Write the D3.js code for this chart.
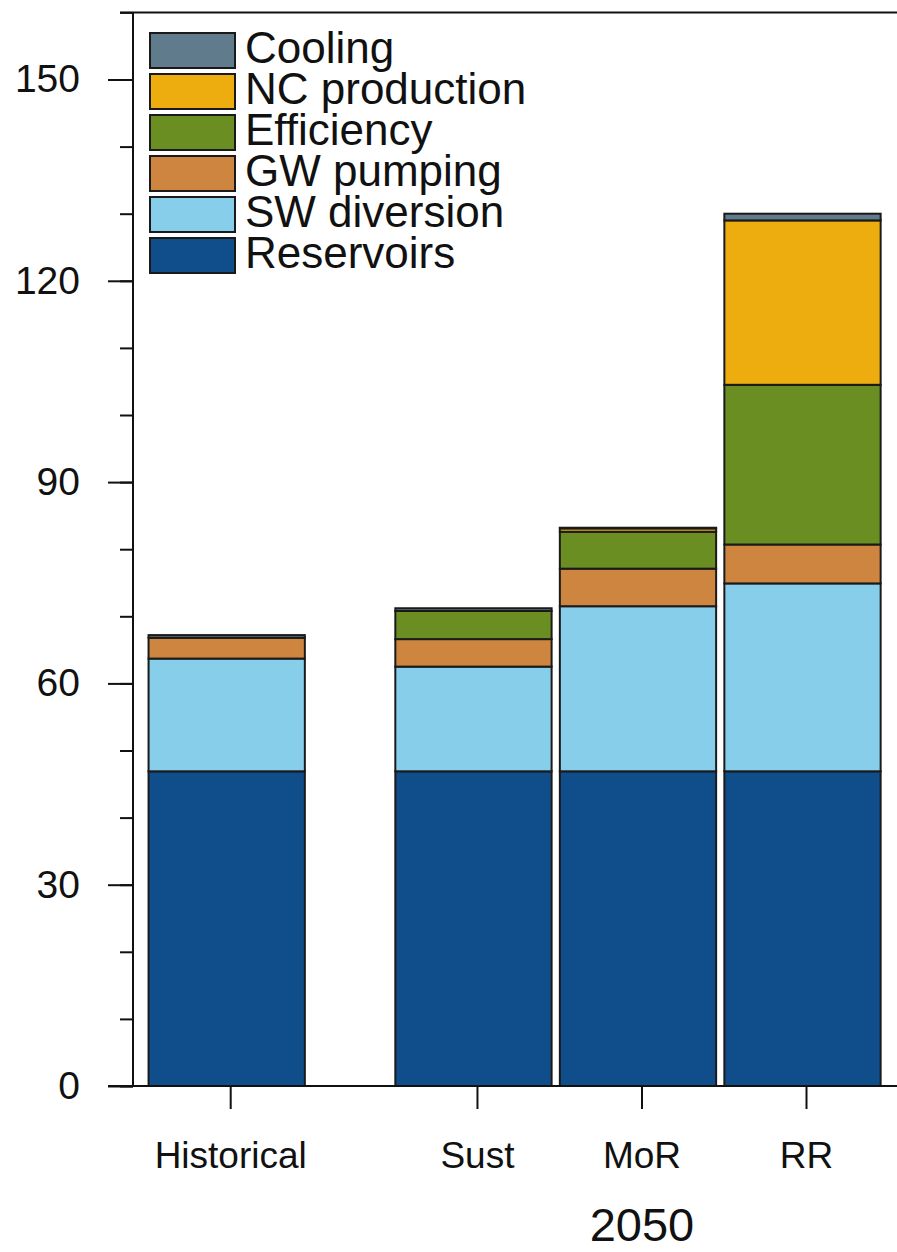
<!DOCTYPE html>
<html>
<head>
<meta charset="utf-8">
<script src="https://cdn.jsdelivr.net/npm/d3@7"></script>
<style>
  html, body { margin: 0; padding: 0; background: #fff; }
  svg { display: block; font-family: "Liberation Sans", Arial, Helvetica, sans-serif; }
</style>
</head>
<body>
<svg id="chart" width="897" height="1252"></svg>
<script>
// Scenario columns and their slot positions (gap after Historical)
const categories = ["Historical", "Sust", "MoR", "RR"];
const slots = [0, 1.5, 2.5, 3.5];

// Stack components, bottom to top
const series = ["Reservoirs", "SW diversion", "GW pumping", "Efficiency", "NC production", "Cooling"];
const colors = ["#104e8b", "#87ceeb", "#cd853f", "#6b8e23", "#eead0e", "#607b8b"];

// Values per component, one entry per scenario
const reservoirs   = [46.9, 46.9, 46.9, 46.9];
const swDiversion  = [16.8, 15.6, 24.6, 28.0];
const gwPumping    = [3.1, 4.1, 5.6, 5.8];
const efficiency   = [0.0, 4.2, 5.5, 23.8];
const ncProduction = [0.0, 0.0, 0.5, 24.5];
const cooling      = [0.4, 0.4, 0.1, 1.0];

const yTicks = [0, 30, 60, 90, 120, 150];
const yMinor = d3.range(0, 161, 10);
const groupLabel = "2050";

const values = [reservoirs, swDiversion, gwPumping, efficiency, ncProduction, cooling];
const table = categories.map((c, i) => {
  const row = { category: c, slot: slots[i] };
  series.forEach((s, k) => { row[s] = values[k][i]; });
  return row;
});
const stacked = d3.stack().keys(series)(table);

const svg = d3.select("#chart");
const y = d3.scaleLinear().domain([0, 160]).range([1086, 12.4]);
const x = d3.scaleLinear().domain([0, 3.5]).range([226.7, 802.5]);
const unit = x(1) - x(0);
const barW = unit * 0.95;

// Bars
const layers = svg.append("g").selectAll("g").data(stacked).join("g")
  .attr("fill", (d, i) => colors[i]);
layers.selectAll("rect").data(d => d.filter(p => p[1] - p[0] > 0)).join("rect")
  .attr("x", d => x(d.data.slot) - barW / 2)
  .attr("width", barW)
  .attr("y", d => y(d[1]))
  .attr("height", d => y(d[0]) - y(d[1]))
  .attr("stroke", "#1a1a1a")
  .attr("stroke-width", 2);

// Frame lines: top and bottom
const frame = svg.append("g").attr("stroke", "#111").attr("stroke-width", 2);
frame.append("line").attr("x1", 120).attr("x2", 897).attr("y1", y(160)).attr("y2", y(160));
frame.append("line").attr("x1", 108).attr("x2", 897).attr("y1", y(0)).attr("y2", y(0));

// Left axis with major and minor ticks
const axisX = 133;
const yAxis = svg.append("g").attr("transform", `translate(${axisX},0)`);
yAxis.append("g")
  .call(d3.axisLeft(y).tickValues(yMinor).tickSize(13).tickFormat(""))
  .call(g => g.selectAll("line").attr("stroke", "#111").attr("stroke-width", 2))
  .call(g => g.select(".domain").remove());
yAxis.append("g")
  .call(d3.axisLeft(y).tickValues(yTicks).tickSize(25).tickPadding(28).tickFormat(d3.format("d")))
  .call(g => g.selectAll("line").attr("stroke", "#111").attr("stroke-width", 2))
  .call(g => g.select(".domain").remove())
  .call(g => g.selectAll("text").attr("font-size", 39).attr("fill", "#111")
    .attr("font-family", "'Liberation Sans', Arial, sans-serif"));
yAxis.append("line").attr("x1", 0).attr("x2", 0).attr("y1", y(160)).attr("y2", y(0))
  .attr("stroke", "#111").attr("stroke-width", 2);

// Bottom category ticks and labels
const xAxis = svg.append("g").attr("transform", `translate(0,${y(0)})`);
xAxis.selectAll("line.tick").data(table).join("line")
  .attr("class", "tick")
  .attr("x1", d => x(d.slot) + 4).attr("x2", d => x(d.slot) + 4)
  .attr("y1", 0).attr("y2", 23)
  .attr("stroke", "#111").attr("stroke-width", 2);
xAxis.selectAll("text").data(table).join("text")
  .attr("x", d => x(d.slot) + 4)
  .attr("y", 82)
  .attr("text-anchor", "middle")
  .attr("font-size", 37)
  .attr("fill", "#111")
  .text(d => d.category);

// Group label under the projected scenarios
svg.append("text")
  .attr("x", x(2.5) + 4)
  .attr("y", 1241)
  .attr("text-anchor", "middle")
  .attr("font-size", 47)
  .attr("fill", "#111")
  .text(groupLabel);

// Legend, top component first
const legendItems = series.map((s, i) => ({ name: s, color: colors[i] })).reverse();
const legend = svg.append("g").attr("transform", "translate(150,33)");
const rows = legend.selectAll("g").data(legendItems).join("g")
  .attr("transform", (d, i) => `translate(0,${i * 41})`);
rows.append("rect")
  .attr("width", 85).attr("height", 35)
  .attr("fill", d => d.color)
  .attr("stroke", "#1a1a1a").attr("stroke-width", 2);
rows.append("text")
  .attr("x", 95).attr("y", 30)
  .attr("font-size", 44)
  .attr("fill", "#111")
  .text(d => d.name);
</script>
</body>
</html>
